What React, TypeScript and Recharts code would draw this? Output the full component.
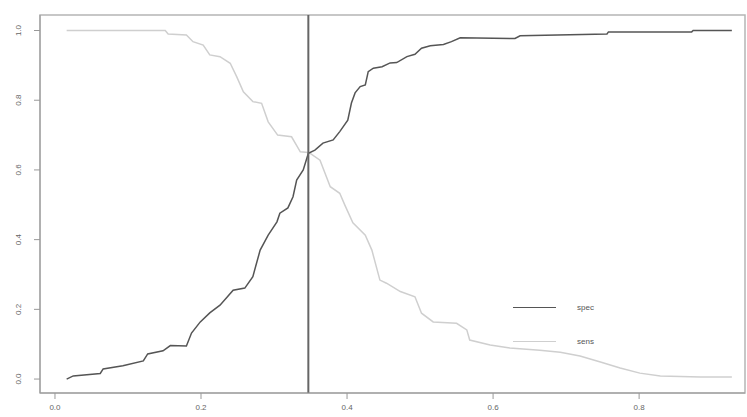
import React from "react";
import {
  Line,
  LineChart,
  ReferenceArea,
  ReferenceLine,
  XAxis,
  YAxis
} from "recharts";

// cutoff vs. specificity / sensitivity
const specX = [
  0.016, 0.025, 0.062, 0.066, 0.093, 0.121, 0.127, 0.148, 0.158, 0.18, 0.187, 0.199, 0.212, 0.226,
  0.244, 0.26, 0.271, 0.281, 0.292, 0.304, 0.308, 0.319, 0.326, 0.331, 0.34, 0.347, 0.356, 0.367,
  0.381, 0.39, 0.401, 0.406, 0.411, 0.418, 0.425, 0.429, 0.436, 0.448, 0.459, 0.468, 0.482, 0.493,
  0.502, 0.514, 0.532, 0.543, 0.555, 0.63, 0.637, 0.756, 0.758, 0.872, 0.874, 0.927
];
const specY = [
  0.0, 0.009, 0.016, 0.029, 0.038, 0.052, 0.072, 0.081, 0.096, 0.095, 0.132, 0.164, 0.19, 0.212,
  0.255, 0.261, 0.294, 0.37, 0.413, 0.451, 0.476, 0.491, 0.523, 0.571, 0.6, 0.648, 0.657, 0.677,
  0.686, 0.71, 0.743, 0.792, 0.821, 0.839, 0.844, 0.882, 0.892, 0.896, 0.907, 0.908, 0.925, 0.932,
  0.949, 0.956, 0.96, 0.968, 0.979, 0.977, 0.985, 0.99, 0.996, 0.996, 1.0, 1.0
];

const sensX = [
  0.016, 0.151, 0.155, 0.18, 0.189, 0.203, 0.212, 0.226, 0.24, 0.249, 0.258, 0.271, 0.283, 0.292,
  0.305, 0.324, 0.336, 0.347, 0.349, 0.363, 0.377, 0.39, 0.397, 0.408, 0.425, 0.434, 0.445, 0.454,
  0.473, 0.493, 0.502, 0.518, 0.55, 0.564, 0.568, 0.596, 0.623, 0.664, 0.692, 0.719, 0.747, 0.774,
  0.801, 0.829, 0.884, 0.927
];
const sensY = [
  1.0, 1.0, 0.99, 0.987, 0.968, 0.958, 0.93, 0.925, 0.906, 0.867, 0.824, 0.796, 0.791, 0.738,
  0.7, 0.695, 0.652, 0.65, 0.648, 0.628, 0.552, 0.533, 0.499, 0.448, 0.413, 0.37, 0.284, 0.275,
  0.251, 0.236, 0.189, 0.164, 0.16, 0.141, 0.112, 0.098, 0.089, 0.083, 0.077, 0.066, 0.049, 0.032,
  0.017, 0.009, 0.006, 0.006
];

const cutoff = 0.347;
const xTicks = [0, 0.2, 0.4, 0.6, 0.8];
const yTicks = [0, 0.2, 0.4, 0.6, 0.8, 1.0];
const legendItems = [
  { name: "spec", color: "#555" },
  { name: "sens", color: "#cfcfcf" }
];

const specData = specX.map((x, i) => ({ x, y: specY[i] }));
const sensData = sensX.map((x, i) => ({ x, y: sensY[i] }));

const axisFont = "'Liberation Sans', Arial, sans-serif";

function XTick({ x, y, payload }: any) {
  return (
    <text x={x} y={y + 11} textAnchor="middle" fontSize={8} fill="#666" fontFamily={axisFont}>
      {payload.value.toFixed(1)}
    </text>
  );
}

function YTick({ x, y, payload }: any) {
  const tx = x - 13;
  return (
    <text
      x={tx}
      y={y}
      transform={`rotate(-90 ${tx} ${y})`}
      textAnchor="middle"
      fontSize={8}
      fill="#666"
      fontFamily={axisFont}
    >
      {payload.value.toFixed(1)}
    </text>
  );
}

export default function App() {
  return (
    <div style={{ position: "absolute", left: 0, top: 0, width: 747, height: 417, background: "#fff" }}>
      <LineChart width={747} height={417} margin={{ top: 15, right: 2, bottom: 0, left: 0 }}>
        <XAxis
          dataKey="x"
          type="number"
          domain={[-0.0205, 0.945]}
          ticks={xTicks}
          allowDataOverflow
          height={24}
          tickSize={6}
          tickMargin={0}
          stroke="#999"
          tick={<XTick />}
        />
        <YAxis
          dataKey="y"
          type="number"
          domain={[-0.04, 1.0445]}
          ticks={yTicks}
          allowDataOverflow
          width={40}
          tickSize={6}
          tickMargin={0}
          stroke="#999"
          tick={<YTick />}
        />
        <ReferenceArea
          x1={-0.0205}
          x2={0.945}
          y1={-0.04}
          y2={1.0445}
          fill="none"
          stroke="#b5b5b5"
          strokeWidth={1.5}
          ifOverflow="visible"
        />
        <Line
          data={sensData}
          dataKey="y"
          type="linear"
          stroke="#cfcfcf"
          strokeWidth={1.5}
          dot={false}
          isAnimationActive={false}
        />
        <Line
          data={specData}
          dataKey="y"
          type="linear"
          stroke="#555"
          strokeWidth={1.5}
          dot={false}
          isAnimationActive={false}
        />
        <ReferenceLine x={cutoff} stroke="#666" strokeWidth={2} />
      </LineChart>
      <div style={{ position: "absolute", left: 513, top: 300, width: 100 }}>
        {legendItems.map((item) => (
          <div key={item.name} style={{ display: "flex", alignItems: "center", height: 14, marginBottom: 20 }}>
            <div style={{ width: 43, height: 0, borderTop: `1.5px solid ${item.color}` }} />
            <span style={{ marginLeft: 21, fontSize: 8, color: "#555", fontFamily: axisFont }}>{item.name}</span>
          </div>
        ))}
      </div>
    </div>
  );
}
